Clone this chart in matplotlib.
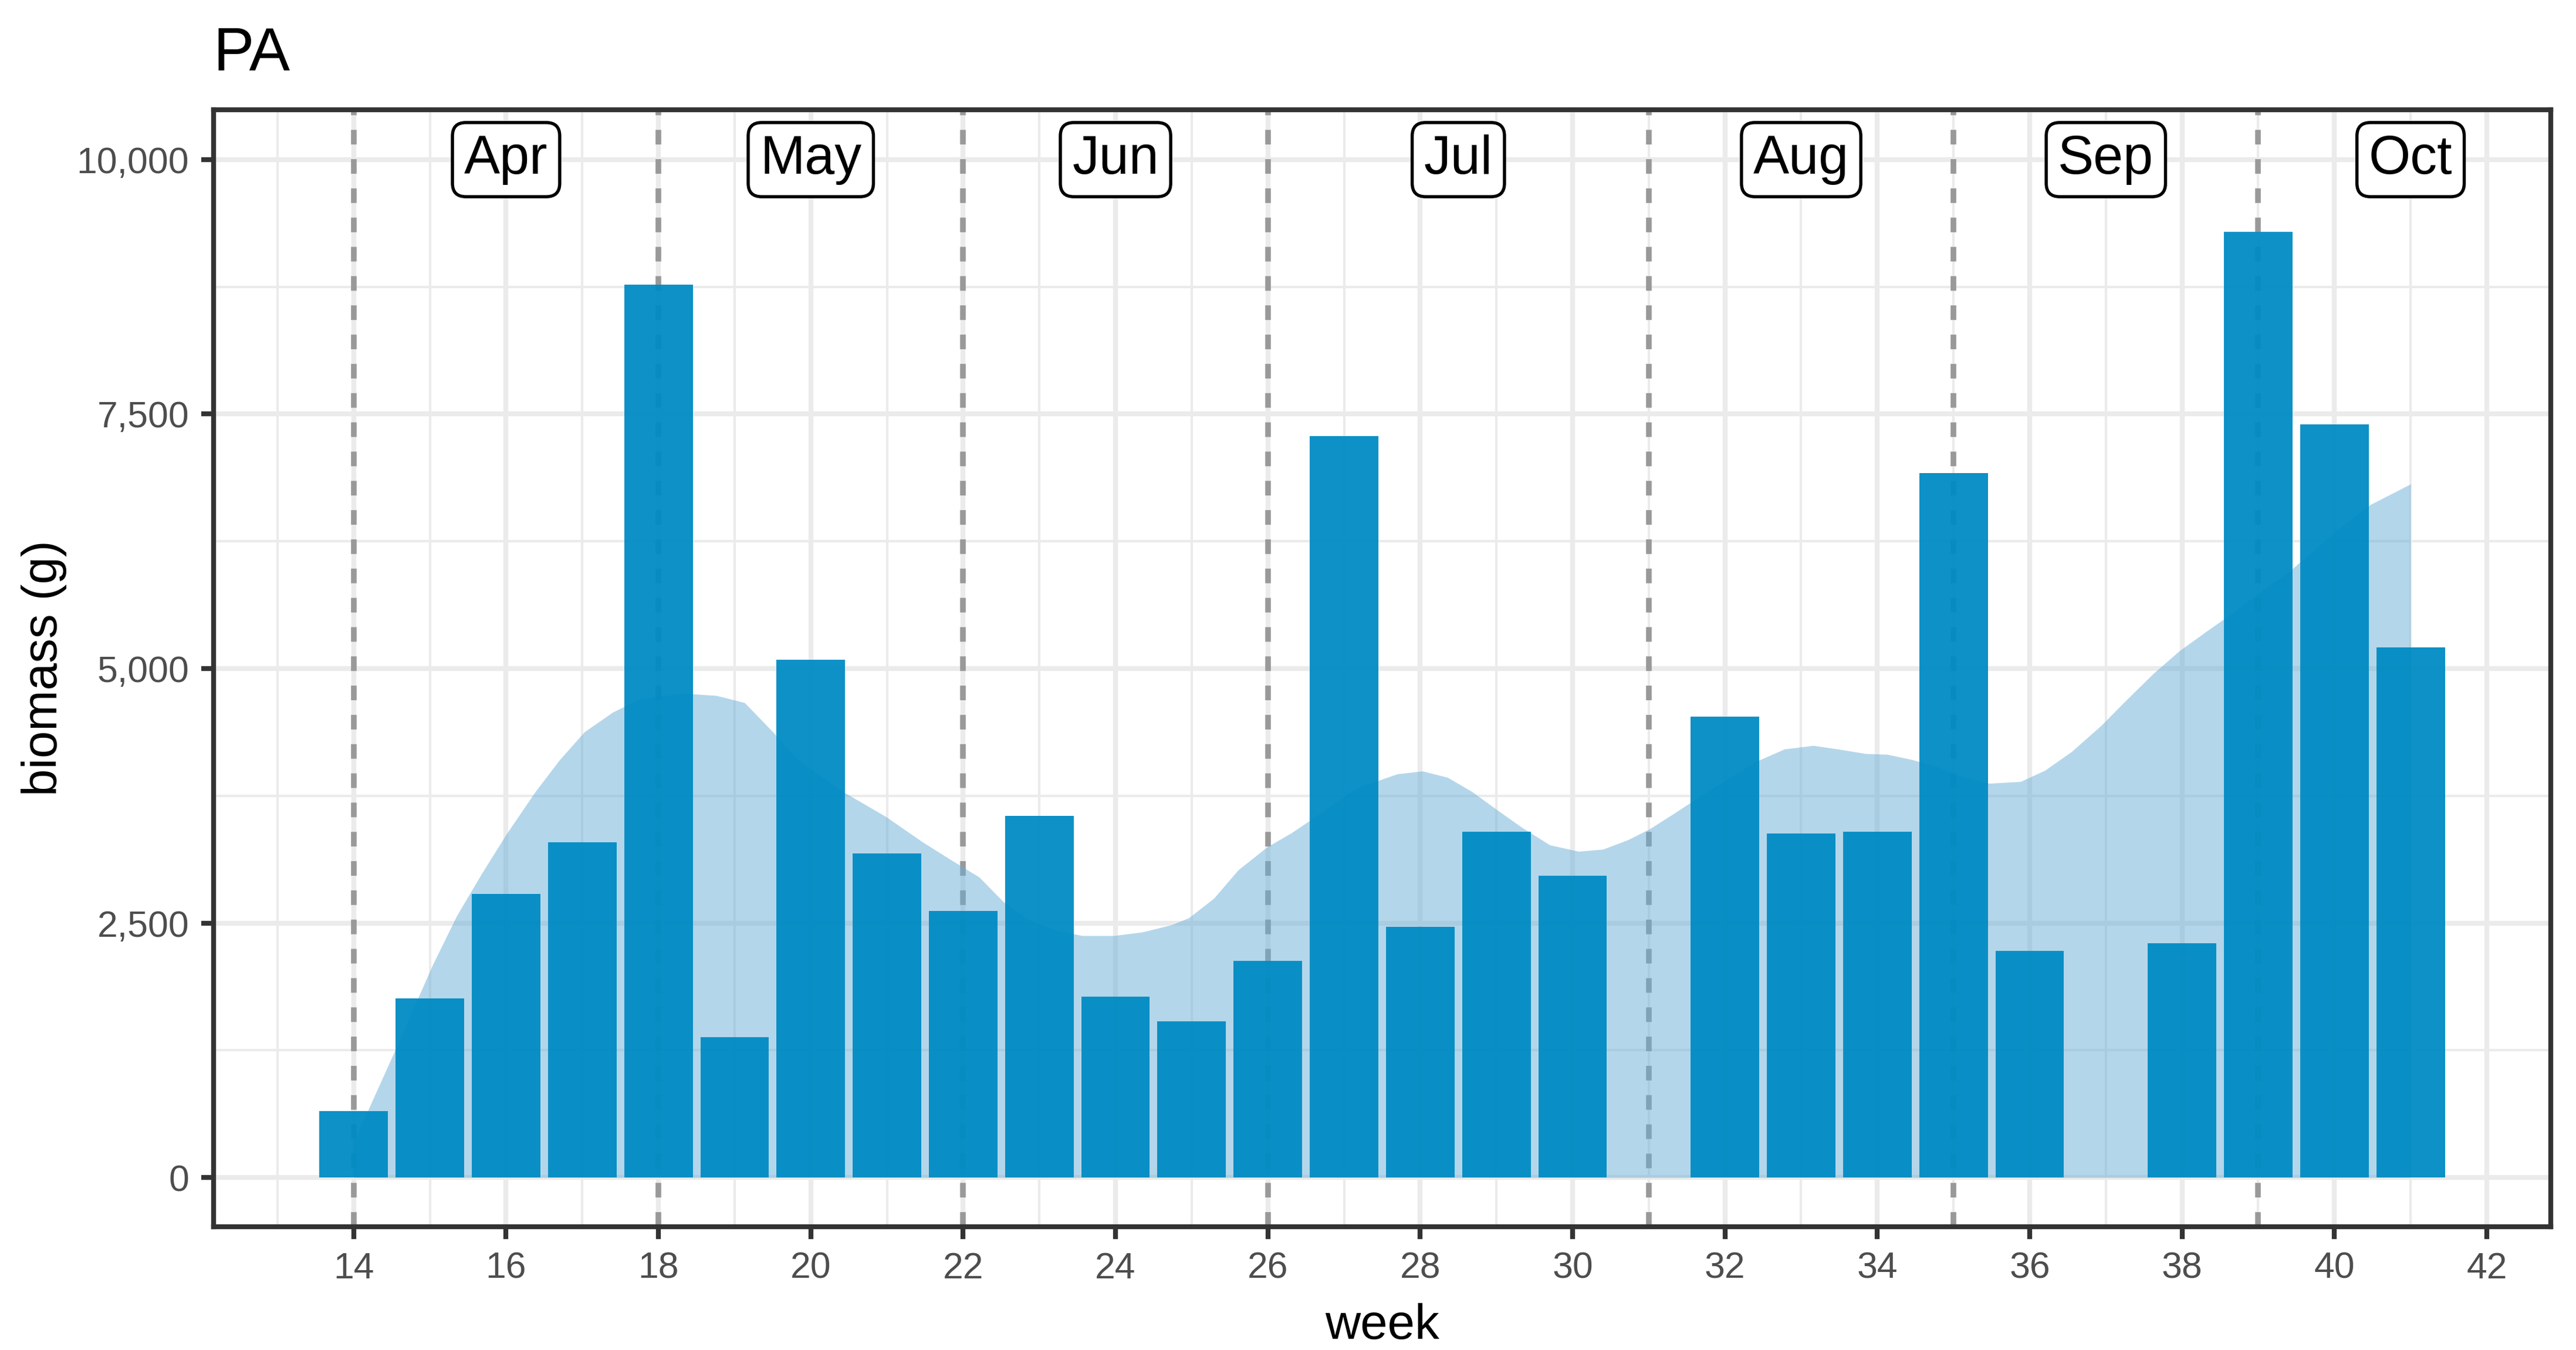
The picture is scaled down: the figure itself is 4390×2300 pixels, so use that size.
import matplotlib

matplotlib.use('Agg')
import matplotlib.pyplot as plt
from matplotlib.ticker import FuncFormatter

plt.rcParams['font.family'] = ['Liberation Sans', 'DejaVu Sans']

# weekly biomass (weeks 31 and 37 have no catch)
weeks = [14, 15, 16, 17, 18, 19, 20, 21, 22, 23, 24, 25, 26, 27, 28, 29, 30,
         32, 33, 34, 35, 36, 38, 39, 40, 41]
biomass = [650, 1759, 2787, 3296, 8770, 1380, 5087, 3186, 2620, 3554, 1777, 1533, 2129,
           7286, 2460, 3396, 2963, 4530, 3382, 3396, 6923, 2225, 2302, 9290, 7401, 5206]

# smoothed trend (shaded area)
trend_weeks = [14.0, 14.14, 14.56, 15.03, 15.35, 15.68, 16.0, 16.38, 16.7, 17.03, 17.4,
               17.73, 18.01, 18.34, 18.76, 19.13, 19.5, 19.83, 20.43, 20.99, 21.46, 21.83,
               22.21, 22.53, 22.86, 23.23, 23.56, 23.98, 24.35, 24.73, 24.96, 25.29, 25.61,
               25.99, 26.31, 26.69, 27.15, 27.7, 28.03, 28.36, 28.68, 29.0, 29.33, 29.7,
               30.08, 30.4, 30.73, 31.01, 31.34, 31.66, 32.03, 32.41, 32.78, 33.16, 33.48,
               33.85, 34.13, 34.46, 34.78, 35.07, 35.47, 35.88, 36.2, 36.55, 36.94, 37.23,
               37.63, 37.97, 38.31, 38.66, 39.05, 39.4, 39.74, 40.09, 40.47, 41.0]
trend_vals = [350, 582, 1279, 2080, 2568, 2986, 3369, 3787, 4101, 4379, 4571,
              4693, 4728, 4756, 4735, 4665, 4379, 4101, 3787, 3543, 3299, 3125,
              2951, 2707, 2533, 2428, 2376, 2376, 2411, 2481, 2550, 2742, 3021,
              3247, 3386, 3578, 3822, 3965, 3993, 3930, 3790, 3616, 3441, 3267,
              3204, 3225, 3319, 3424, 3581, 3738, 3912, 4087, 4209, 4244, 4209,
              4164, 4157, 4104, 4036, 3945, 3872, 3890, 4000, 4184, 4442, 4662,
              4956, 5177, 5360, 5544, 5765, 5949, 6169, 6390, 6610, 6813]

month_starts = [14, 18, 22, 26, 31, 35, 39]
month_names = ['Apr', 'May', 'Jun', 'Jul', 'Aug', 'Sep', 'Oct']
month_pos = [16, 20, 24, 28.5, 33, 37, 41]

fig = plt.figure(figsize=(4390 / 300, 2300 / 300), dpi=300)
ax = fig.add_axes([0.0829, 0.0913, 0.9073, 0.8274])

ax.set_axisbelow(True)
ax.grid(which='major', color='#ebebeb', lw=2.0, zorder=0)
ax.grid(which='minor', color='#ebebeb', lw=1.0, zorder=0)

for w in month_starts:
    ax.axvline(w, color='#999999', lw=2.3, ls=(0, (2.6, 2.6)), zorder=1.5)

ax.fill_between(trend_weeks, 0, trend_vals, color='#6baed6', alpha=0.5, lw=0, zorder=2)
ax.bar(weeks, biomass, width=0.9, color='#008bc3', alpha=0.95, lw=0, zorder=3)

for name, x in zip(month_names, month_pos):
    ax.text(x, 10000, name, ha='center', va='center', fontsize=22, zorder=5,
            bbox=dict(boxstyle='round,pad=0.22,rounding_size=0.25', fc='white', ec='black', lw=1.3))

ax.set_xlim(12.16, 42.84)
ax.set_ylim(-484, 10490)
ax.set_xticks(range(14, 43, 2))
ax.set_xticks(range(13, 43, 2), minor=True)
ax.set_yticks([0, 2500, 5000, 7500, 10000])
ax.set_yticks([1250, 3750, 6250, 8750], minor=True)
ax.yaxis.set_major_formatter(FuncFormatter(lambda v, p: '{:,}'.format(int(v))))

for s in ax.spines.values():
    s.set_color('#333333')
    s.set_linewidth(2.0)
ax.tick_params(which='major', color='#333333', width=2.0, length=5, labelsize=15,
               labelcolor='#4d4d4d', pad=5)
ax.tick_params(which='minor', length=0)

ax.set_title('PA', loc='left', fontsize=25, pad=16)
ax.set_xlabel('week', fontsize=20, labelpad=7)
ax.set_ylabel('biomass (g)', fontsize=20, labelpad=4)

plt.savefig('out.png', dpi=300)
